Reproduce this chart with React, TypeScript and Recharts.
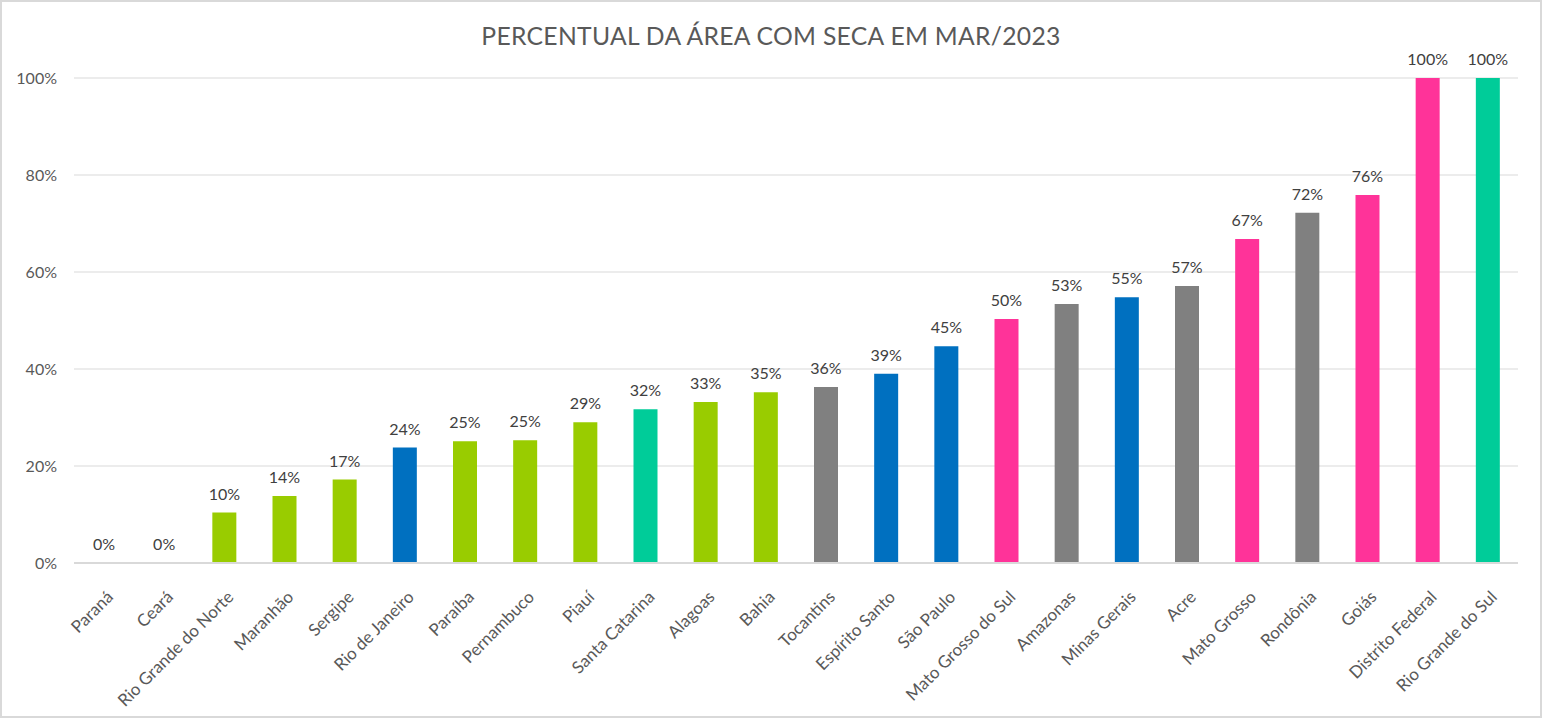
import { BarChart, Bar, XAxis, YAxis, CartesianGrid, LabelList, Cell } from 'recharts';

const estados = [
  'Paraná', 'Ceará', 'Rio Grande do Norte', 'Maranhão', 'Sergipe', 'Rio de Janeiro',
  'Paraíba', 'Pernambuco', 'Piauí', 'Santa Catarina', 'Alagoas', 'Bahia',
  'Tocantins', 'Espírito Santo', 'São Paulo', 'Mato Grosso do Sul', 'Amazonas',
  'Minas Gerais', 'Acre', 'Mato Grosso', 'Rondônia', 'Goiás', 'Distrito Federal',
  'Rio Grande do Sul',
];

const percentuais = [
  0, 0, 10.4, 13.8, 17.2, 23.8, 25.1, 25.3, 29.0, 31.7, 33.2, 35.2,
  36.3, 39.0, 44.7, 50.3, 53.4, 54.8, 57.1, 66.8, 72.2, 75.9, 100, 100,
];

const cores = [
  '#99CC00', '#99CC00', '#99CC00', '#99CC00', '#99CC00', '#0070C0',
  '#99CC00', '#99CC00', '#99CC00', '#00CC99', '#99CC00', '#99CC00',
  '#808080', '#0070C0', '#0070C0', '#FF3399', '#808080', '#0070C0',
  '#808080', '#FF3399', '#808080', '#FF3399', '#FF3399', '#00CC99',
];

const yTicks = [0, 20, 40, 60, 80, 100];

const data = estados.map((nome, i) => ({ nome, valor: percentuais[i] }));

const FONT = 'Lato, "Open Sans", sans-serif';

// rótulos do eixo X inclinados 45°, terminando logo abaixo de cada barra
const RotatedTick = (props: any) => {
  const { x, y, payload } = props;
  return (
    <g transform={`translate(${x + 3},${y + 20})`}>
      <text
        x={0}
        y={0}
        dy={10}
        textAnchor="end"
        transform="rotate(-45)"
        fill="#595959"
        fontSize={17}
        fontFamily={FONT}
      >
        {payload.value}
      </text>
    </g>
  );
};

export default function App() {
  return (
    <div style={{ position: 'absolute', left: 0, top: 0, width: 1542, height: 718, background: '#fff', fontFamily: FONT }}>
      <div
        style={{
          position: 'absolute', left: 0, top: 0, width: 1542, height: 718,
          boxSizing: 'border-box', border: '2px solid #D9D9D9', pointerEvents: 'none',
        }}
      />
      <div
        style={{
          position: 'absolute', left: 0, top: 21, width: 1542, textAlign: 'center',
          fontSize: 24.7, color: '#595959', letterSpacing: 0.3,
        }}
      >
        PERCENTUAL DA ÁREA COM SECA EM MAR/2023
      </div>
      <BarChart
        width={1542}
        height={718}
        data={data}
        margin={{ top: 78, right: 24, bottom: 0, left: 0 }}
        barCategoryGap={0}
      >
        <CartesianGrid vertical={false} stroke="#D9D9D9" strokeWidth={1} />
        <XAxis
          dataKey="nome"
          interval={0}
          tickLine={false}
          axisLine={{ stroke: '#D9D9D9', strokeWidth: 2 }}
          tick={<RotatedTick />}
          height={155}
        />
        <YAxis
          width={74}
          domain={[0, 100]}
          ticks={yTicks}
          tickFormatter={(v: number) => `${v}%`}
          axisLine={false}
          tickLine={false}
          tickSize={0}
          tickMargin={17}
          tick={{ fill: '#595959', fontSize: 16, fontFamily: FONT }}
        />
        <Bar dataKey="valor" barSize={24} minPointSize={0.01} isAnimationActive={false}>
          {data.map((d, i) => (
            <Cell key={d.nome} fill={cores[i]} />
          ))}
          <LabelList
            dataKey="valor"
            position="top"
            offset={13}
            formatter={(v: any) => `${Math.round(Number(v))}%`}
            style={{ fill: '#404040', fontSize: 16, fontFamily: FONT }}
          />
        </Bar>
      </BarChart>
    </div>
  );
}
